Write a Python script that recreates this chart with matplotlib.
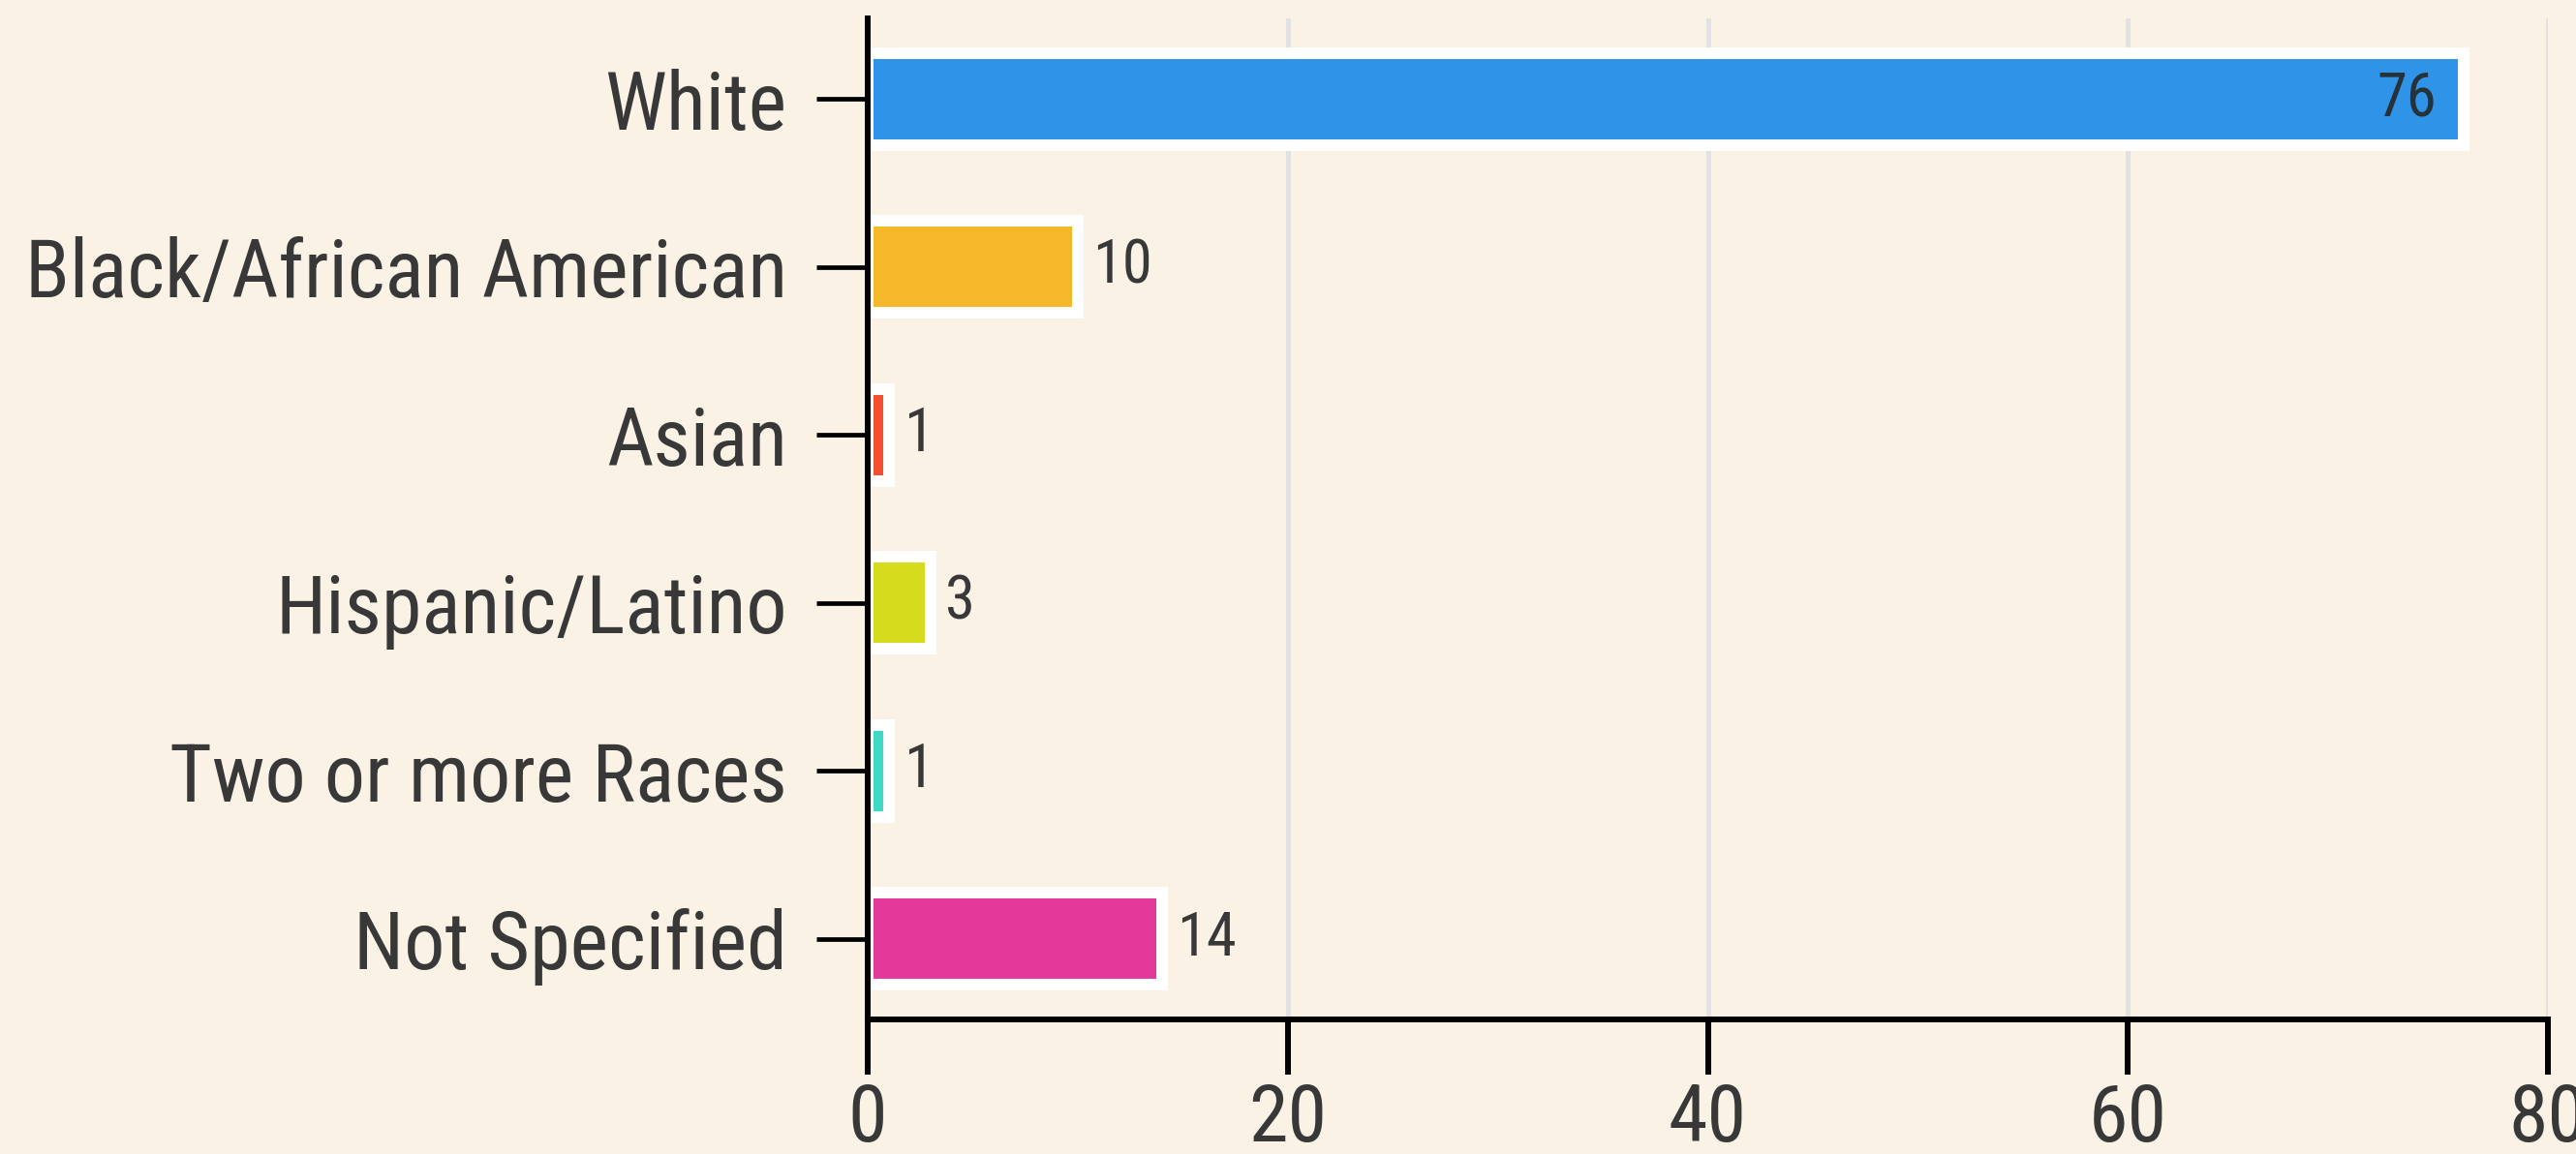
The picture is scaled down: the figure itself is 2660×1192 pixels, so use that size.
import matplotlib
matplotlib.use("Agg")
import matplotlib.pyplot as plt
from matplotlib import font_manager

categories = ["White", "Black/African American", "Asian", "Hispanic/Latino",
              "Two or more Races", "Not Specified"]
values = [76, 10, 1, 3, 1, 14]
bar_colors = ["#2f93e8", "#f5b82a", "#f2502f", "#d5dc1d", "#3ed8c3", "#e4389a"]
x_ticks = [0, 20, 40, 60, 80]

names = {f.name for f in font_manager.fontManager.ttflist}
family = "DejaVu Sans"
for cand in ["Roboto Condensed", "Liberation Sans Narrow", "Roboto"]:
    if cand in names:
        family = cand
        break
plt.rcParams["font.family"] = [family, "DejaVu Sans"]

bg = "#faf2e5"
text_color = "#383838"

fig = plt.figure(figsize=(26.6, 11.92), dpi=100, facecolor=bg)
ax = fig.add_axes([896 / 2660, 1 - 1053 / 1192, (2631 - 896) / 2660, (1053 - 19) / 1192])
ax.set_facecolor(bg)

ypos = list(range(len(categories)))
bars = ax.barh(ypos, values, height=0.55, color=bar_colors,
               edgecolor="white", linewidth=8.6, zorder=3)

ax.set_xlim(0, 80)
ax.set_ylim(5.48, -0.48)
ax.set_yticks(ypos)
ax.set_yticklabels(categories)
ax.set_xticks(x_ticks)
ax.set_xticklabels([str(t) for t in x_ticks])

ax.xaxis.grid(True, color="#e2e2e2", linewidth=3.6, zorder=0)
ax.yaxis.grid(False)
ax.set_axisbelow(True)

for s in ["top", "right"]:
    ax.spines[s].set_visible(False)
for s in ["left", "bottom"]:
    ax.spines[s].set_color("black")
    ax.spines[s].set_linewidth(4.3)
    ax.spines[s].set_zorder(4)

ax.tick_params(axis="y", length=38, width=3.4, color="black", pad=22,
               labelsize=60.5, labelcolor=text_color)
ax.tick_params(axis="x", length=41, width=4.3, color="black", pad=6,
               labelsize=59, labelcolor=text_color)

for y, v in zip(ypos, values):
    if v >= 50:
        ax.annotate(str(v), xy=(v, y), xytext=(-20, 0), textcoords="offset points",
                    ha="right", va="center", fontsize=45, color="#263238", zorder=5)
    else:
        ax.annotate(str(v), xy=(v, y), xytext=(11, 0), textcoords="offset points",
                    ha="left", va="center", fontsize=45, color=text_color, zorder=5)

fig.savefig("out.png", dpi=100, facecolor=bg)
